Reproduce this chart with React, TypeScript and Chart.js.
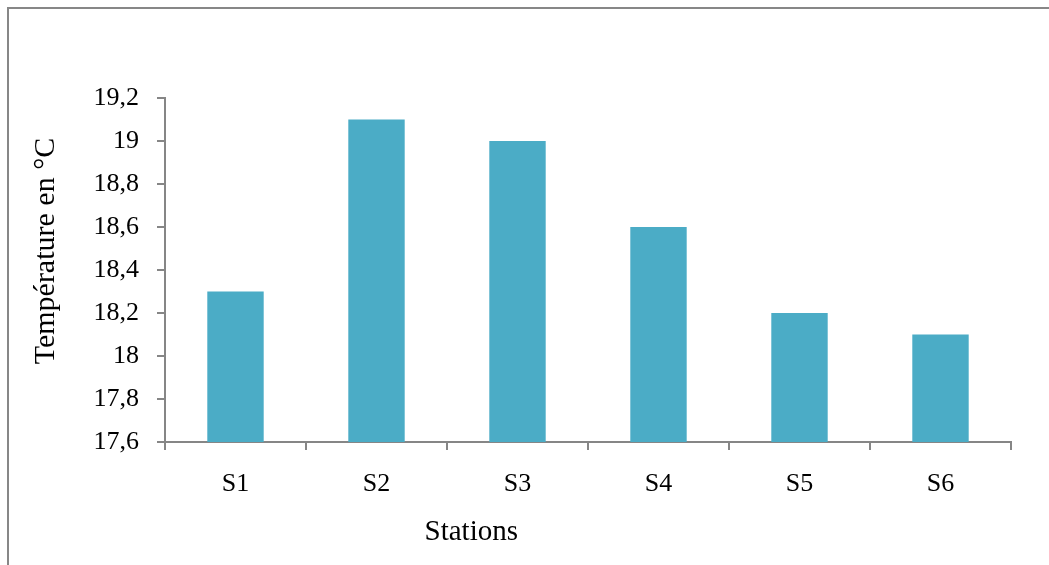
import React, { useEffect, useRef } from "react";
import { Chart, registerables } from "chart.js";

Chart.register(...registerables);

const categories = ["S1", "S2", "S3", "S4", "S5", "S6"];
const temperatures = [18.3, 19.1, 19.0, 18.6, 18.2, 18.1];
const yTickValues = [17.6, 17.8, 18, 18.2, 18.4, 18.6, 18.8, 19, 19.2];
const yTickLabels = ["17,6", "17,8", "18", "18,2", "18,4", "18,6", "18,8", "19", "19,2"];
const xTitle = "Stations";
const yTitle = "Température en °C";

const FONT = "'Liberation Serif', 'Times New Roman', serif";
const AXIS = "#868686";

const axisTitles = {
  id: "axisTitles",
  afterDraw(chart: any) {
    const { ctx, chartArea } = chart;
    const w = chartArea.right - chartArea.left;
    const h = chartArea.bottom - chartArea.top;
    ctx.save();
    ctx.fillStyle = "#000";
    ctx.textAlign = "center";
    ctx.textBaseline = "middle";
    ctx.font = `29px ${FONT}`;
    ctx.fillText(xTitle, chartArea.left + 0.362 * w, chartArea.bottom + 90);
    ctx.font = `30px ${FONT}`;
    ctx.translate(46, chartArea.top + 0.445 * h);
    ctx.rotate(-Math.PI / 2);
    ctx.fillText(yTitle, 0, 0);
    ctx.restore();
  },
};

export default function App() {
  const ref = useRef<HTMLCanvasElement | null>(null);

  useEffect(() => {
    if (!ref.current) return;
    const chart = new Chart(ref.current, {
      type: "bar",
      data: {
        labels: categories,
        datasets: [
          {
            data: temperatures,
            backgroundColor: "#4BACC6",
            barPercentage: 0.4,
            categoryPercentage: 1,
          },
        ],
      },
      plugins: [axisTitles],
      options: {
        animation: false,
        responsive: false,
        events: [],
        layout: { padding: { left: 8, top: 98, right: 38, bottom: 0 } },
        plugins: { legend: { display: false }, tooltip: { enabled: false } },
        scales: {
          x: {
            afterFit: (s: any) => {
              s.height = 565 - 442;
            },
            grid: {
              offset: true,
              drawOnChartArea: false,
              drawTicks: true,
              tickLength: 8,
              color: AXIS,
              lineWidth: 2,
            },
            border: { color: AXIS, width: 2 },
            ticks: {
              color: "#000",
              font: { family: FONT, size: 26 },
              padding: 19,
              maxRotation: 0,
            },
          },
          y: {
            min: 17.6,
            max: 19.2,
            afterFit: (s: any) => {
              s.width = 165 - 8;
            },
            afterBuildTicks: (s: any) => {
              s.ticks = yTickValues.map((v) => ({ value: v }));
            },
            grid: {
              drawOnChartArea: false,
              drawTicks: true,
              tickLength: 8,
              color: AXIS,
              lineWidth: 2,
            },
            border: { color: AXIS, width: 2 },
            ticks: {
              color: "#000",
              font: { family: FONT, size: 26 },
              padding: 18,
              callback: (v: any) => {
                const i = yTickValues.findIndex((t) => Math.abs(t - Number(v)) < 1e-6);
                return i >= 0 ? yTickLabels[i] : "";
              },
            },
          },
        },
      },
    });
    return () => chart.destroy();
  }, []);

  return (
    <div style={{ position: "fixed", left: 0, top: 0, width: 1049, height: 565, background: "#fff" }}>
      <div
        style={{
          position: "absolute",
          left: 7,
          top: 7,
          width: 1100,
          height: 600,
          borderTop: "2px solid #878787",
          borderLeft: "2px solid #878787",
        }}
      />
      <canvas ref={ref} width={1049} height={565} style={{ position: "absolute", left: 0, top: 0 }} />
    </div>
  );
}
